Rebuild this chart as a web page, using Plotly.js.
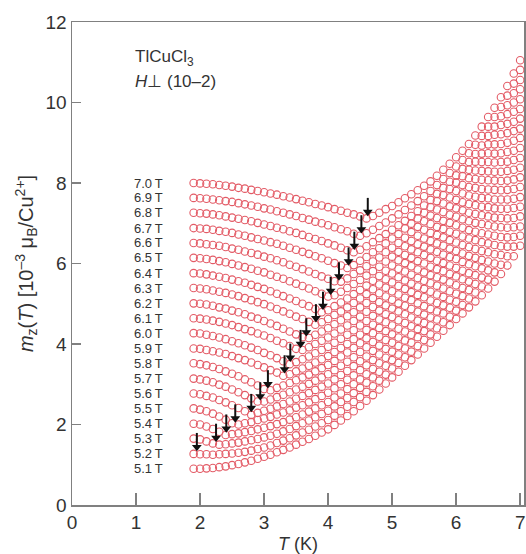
<!DOCTYPE html>
<html><head><meta charset="utf-8">
<script src="https://cdn.plot.ly/plotly-3.0.1.min.js"></script>
<style>html,body{margin:0;padding:0;background:#fff;} #chart{width:526px;height:554px;}</style>
</head><body><div id="chart"></div>
<script>
const temperature = [1.9,2.0,2.1,2.2,2.3,2.4,2.5,2.6,2.7,2.8,2.9,3.0,3.1,3.2,3.3,3.4,3.5,3.6,3.7,3.8,3.9,4.0,4.1,4.2,4.3,4.4,4.5,4.6,4.7,4.8,4.9,5.0,5.1,5.2,5.3,5.4,5.5,5.6,5.7,5.8,5.9,6.0,6.1,6.2,6.3,6.4,6.5,6.6,6.7,6.8,6.9,7.0];
const fieldLabels = ["5.1\u2009T","5.2\u2009T","5.3\u2009T","5.4\u2009T","5.5\u2009T","5.6\u2009T","5.7\u2009T","5.8\u2009T","5.9\u2009T","6.0\u2009T","6.1\u2009T","6.2\u2009T","6.3\u2009T","6.4\u2009T","6.5\u2009T","6.6\u2009T","6.7\u2009T","6.8\u2009T","6.9\u2009T","7.0\u2009T"];
const m51 = [0.90,0.90,0.91,0.92,0.94,0.96,0.99,1.02,1.06,1.10,1.15,1.20,1.25,1.31,1.37,1.43,1.50,1.57,1.64,1.72,1.80,1.88,1.99,2.10,2.21,2.33,2.46,2.59,2.73,2.87,3.02,3.17,3.31,3.46,3.60,3.74,3.89,4.03,4.18,4.33,4.47,4.62,4.76,4.91,5.06,5.21,5.38,5.55,5.74,5.95,6.18,6.44];
const m52 = [1.27,1.26,1.26,1.25,1.26,1.27,1.28,1.30,1.32,1.35,1.39,1.43,1.48,1.54,1.60,1.66,1.73,1.80,1.87,1.95,2.03,2.11,2.22,2.33,2.44,2.56,2.68,2.81,2.95,3.09,3.24,3.39,3.53,3.67,3.81,3.95,4.10,4.24,4.39,4.54,4.68,4.83,4.97,5.13,5.28,5.43,5.60,5.78,5.97,6.18,6.42,6.69];
const m53 = [1.65,1.63,1.58,1.53,1.50,1.51,1.53,1.55,1.58,1.61,1.64,1.68,1.72,1.77,1.83,1.89,1.96,2.03,2.10,2.18,2.26,2.34,2.45,2.56,2.66,2.78,2.91,3.04,3.17,3.31,3.46,3.60,3.74,3.89,4.03,4.17,4.32,4.46,4.61,4.76,4.90,5.05,5.19,5.34,5.49,5.65,5.83,6.00,6.21,6.42,6.66,6.92];
const m54 = [2.02,2.00,1.95,1.89,1.82,1.74,1.76,1.78,1.81,1.84,1.88,1.92,1.96,2.01,2.06,2.12,2.18,2.25,2.32,2.40,2.48,2.56,2.67,2.77,2.88,3.00,3.12,3.25,3.38,3.52,3.66,3.81,3.95,4.09,4.23,4.37,4.52,4.66,4.81,4.96,5.10,5.25,5.39,5.55,5.71,5.88,6.05,6.23,6.43,6.65,6.90,7.17];
const m55 = [2.40,2.37,2.33,2.27,2.20,2.12,2.03,2.00,2.03,2.06,2.11,2.15,2.19,2.25,2.30,2.35,2.42,2.48,2.55,2.63,2.71,2.79,2.90,3.00,3.11,3.22,3.35,3.47,3.60,3.74,3.88,4.03,4.16,4.31,4.44,4.58,4.73,4.87,5.02,5.17,5.31,5.46,5.61,5.76,5.93,6.09,6.28,6.46,6.66,6.89,7.13,7.41];
const m56 = [2.77,2.75,2.71,2.67,2.61,2.55,2.48,2.41,2.33,2.24,2.29,2.34,2.39,2.45,2.51,2.57,2.64,2.71,2.78,2.86,2.94,3.02,3.12,3.23,3.33,3.45,3.57,3.69,3.83,3.96,4.10,4.24,4.38,4.52,4.66,4.80,4.94,5.08,5.23,5.38,5.53,5.68,5.82,5.98,6.14,6.31,6.50,6.69,6.90,7.12,7.38,7.65];
const m57 = [3.14,3.12,3.09,3.05,2.99,2.94,2.87,2.80,2.73,2.65,2.57,2.57,2.62,2.68,2.74,2.80,2.87,2.94,3.01,3.09,3.17,3.25,3.35,3.46,3.56,3.67,3.80,3.92,4.05,4.18,4.32,4.46,4.59,4.74,4.87,5.01,5.16,5.30,5.45,5.60,5.74,5.89,6.04,6.19,6.36,6.53,6.72,6.92,7.13,7.36,7.61,7.90];
const m58 = [3.52,3.50,3.47,3.43,3.38,3.32,3.26,3.20,3.12,3.05,2.97,2.88,2.85,2.91,2.97,3.03,3.10,3.17,3.24,3.32,3.40,3.48,3.58,3.69,3.79,3.90,4.02,4.14,4.27,4.40,4.54,4.67,4.81,4.95,5.09,5.22,5.37,5.51,5.66,5.81,5.95,6.11,6.25,6.41,6.58,6.75,6.95,7.14,7.36,7.59,7.85,8.14];
const m59 = [3.89,3.88,3.85,3.82,3.79,3.75,3.70,3.65,3.60,3.54,3.48,3.42,3.35,3.29,3.21,3.25,3.32,3.39,3.46,3.54,3.62,3.70,3.80,3.90,4.00,4.12,4.23,4.35,4.48,4.61,4.74,4.88,5.01,5.15,5.29,5.43,5.57,5.71,5.86,6.01,6.16,6.31,6.46,6.62,6.79,6.98,7.17,7.37,7.59,7.83,8.09,8.38];
const m60 = [4.27,4.26,4.23,4.20,4.16,4.12,4.07,4.02,3.97,3.91,3.85,3.78,3.72,3.65,3.57,3.50,3.55,3.62,3.69,3.77,3.85,3.93,4.03,4.13,4.23,4.34,4.46,4.57,4.70,4.83,4.96,5.10,5.23,5.37,5.50,5.64,5.78,5.92,6.07,6.22,6.37,6.52,6.67,6.83,7.01,7.20,7.40,7.59,7.82,8.06,8.33,8.62];
const m61 = [4.64,4.63,4.61,4.58,4.55,4.51,4.47,4.42,4.37,4.32,4.26,4.21,4.15,4.08,4.02,3.95,3.88,3.85,3.92,4.00,4.08,4.16,4.26,4.36,4.46,4.57,4.68,4.80,4.92,5.04,5.18,5.31,5.44,5.58,5.72,5.85,6.00,6.14,6.29,6.44,6.58,6.74,6.89,7.05,7.23,7.41,7.62,7.83,8.05,8.30,8.57,8.87];
const m62 = [5.01,5.00,4.98,4.95,4.91,4.88,4.83,4.79,4.74,4.68,4.63,4.57,4.51,4.45,4.38,4.31,4.24,4.17,4.15,4.23,4.31,4.39,4.49,4.59,4.69,4.79,4.91,5.02,5.14,5.26,5.40,5.53,5.66,5.80,5.93,6.06,6.21,6.35,6.50,6.65,6.79,6.95,7.10,7.26,7.45,7.63,7.84,8.06,8.28,8.53,8.80,9.12];
const m63 = [5.39,5.38,5.36,5.33,5.30,5.27,5.23,5.19,5.14,5.09,5.04,4.99,4.93,4.87,4.81,4.75,4.68,4.62,4.55,4.48,4.54,4.62,4.72,4.81,4.91,5.02,5.13,5.24,5.36,5.48,5.61,5.75,5.87,6.01,6.14,6.28,6.42,6.56,6.71,6.86,7.01,7.16,7.32,7.48,7.66,7.85,8.07,8.28,8.52,8.77,9.05,9.35];
const m64 = [5.76,5.75,5.73,5.70,5.67,5.64,5.60,5.56,5.52,5.47,5.42,5.37,5.31,5.25,5.19,5.13,5.07,5.00,4.94,4.87,4.79,4.84,4.94,5.03,5.13,5.24,5.34,5.45,5.57,5.69,5.82,5.95,6.08,6.21,6.35,6.48,6.62,6.76,6.91,7.06,7.21,7.37,7.52,7.69,7.88,8.08,8.29,8.51,8.74,9.00,9.29,9.60];
const m65 = [6.14,6.13,6.11,6.09,6.06,6.03,5.99,5.95,5.91,5.87,5.82,5.78,5.72,5.67,5.62,5.56,5.50,5.44,5.38,5.31,5.25,5.18,5.21,5.30,5.39,5.49,5.59,5.70,5.81,5.92,6.05,6.17,6.29,6.43,6.56,6.69,6.84,6.98,7.13,7.28,7.42,7.58,7.74,7.90,8.10,8.30,8.52,8.73,8.97,9.24,9.52,9.84];
const m66 = [6.51,6.50,6.48,6.46,6.44,6.41,6.37,6.34,6.30,6.26,6.22,6.17,6.13,6.08,6.03,5.97,5.92,5.86,5.80,5.74,5.68,5.62,5.56,5.55,5.63,5.74,5.83,5.93,6.05,6.15,6.28,6.39,6.51,6.64,6.78,6.91,7.05,7.19,7.34,7.49,7.64,7.80,7.95,8.12,8.31,8.52,8.74,8.96,9.21,9.47,9.77,10.08];
const m67 = [6.88,6.87,6.86,6.84,6.81,6.79,6.76,6.72,6.69,6.65,6.61,6.57,6.53,6.49,6.44,6.39,6.34,6.29,6.24,6.18,6.13,6.07,6.01,5.95,5.89,5.96,6.07,6.16,6.28,6.38,6.50,6.62,6.73,6.87,6.99,7.12,7.26,7.40,7.55,7.70,7.85,8.01,8.17,8.33,8.53,8.73,8.96,9.20,9.44,9.71,10.00,10.33];
const m68 = [7.26,7.25,7.24,7.22,7.20,7.17,7.14,7.11,7.08,7.05,7.01,6.97,6.93,6.89,6.85,6.80,6.76,6.71,6.66,6.61,6.56,6.50,6.45,6.39,6.33,6.28,6.34,6.43,6.53,6.63,6.73,6.84,6.95,7.06,7.18,7.30,7.44,7.58,7.73,7.88,8.03,8.19,8.35,8.52,8.72,8.93,9.17,9.40,9.66,9.93,10.23,10.56];
const m69 = [7.63,7.62,7.61,7.59,7.57,7.55,7.53,7.50,7.47,7.44,7.41,7.37,7.34,7.30,7.26,7.22,7.18,7.13,7.09,7.04,7.00,6.95,6.90,6.85,6.80,6.74,6.69,6.75,6.84,6.93,7.02,7.12,7.22,7.33,7.44,7.55,7.67,7.80,7.95,8.10,8.25,8.41,8.57,8.74,8.95,9.17,9.40,9.64,9.89,10.17,10.47,10.81];
const m70 = [8.00,7.99,7.98,7.97,7.95,7.93,7.91,7.88,7.86,7.83,7.80,7.77,7.74,7.71,7.67,7.64,7.60,7.56,7.52,7.48,7.44,7.40,7.35,7.31,7.26,7.22,7.17,7.12,7.18,7.26,7.35,7.43,7.52,7.62,7.72,7.82,7.93,8.04,8.18,8.33,8.48,8.64,8.80,8.97,9.18,9.40,9.64,9.87,10.13,10.41,10.72,11.05];
const curves = [m51,m52,m53,m54,m55,m56,m57,m58,m59,m60,m61,m62,m63,m64,m65,m66,m67,m68,m69,m70];
// transition temperatures (arrows) for 5.2 T ... 7.0 T and the curve value there
const arrowT = [1.95,2.25,2.41,2.55,2.80,2.94,3.06,3.32,3.41,3.57,3.66,3.81,3.92,4.04,4.17,4.32,4.41,4.52,4.62];
const arrowM = [1.27,1.50,1.73,1.98,2.24,2.53,2.83,3.20,3.49,3.83,4.12,4.47,4.78,5.15,5.51,5.88,6.27,6.68,7.11];
const xTicks = [0,1,2,3,4,5,6,7];
const yTicks = [0,2,4,6,8,10,12];

const FONT = "'Liberation Sans', Arial, sans-serif";
const RED = '#e35b66';
const traces = curves.map((vals, i) => ({
  type: 'scatter', mode: 'markers', x: temperature, y: vals, name: fieldLabels[i],
  marker: {symbol: 'circle-open', size: 7.5, color: RED, line: {width: 1.1}},
  cliponaxis: false
}));
// arrows: shaft lines + triangular heads, positioned from the arrow arrays
const shaftX = [], shaftY = [];
arrowT.forEach((t, i) => { shaftX.push(t, t, null); shaftY.push(arrowM[i] + 0.52, arrowM[i] + 0.2, null); });
traces.push({type: 'scatter', mode: 'lines', x: shaftX, y: shaftY, line: {color: '#111', width: 2}, hoverinfo: 'skip', cliponaxis: false});
traces.push({type: 'scatter', mode: 'markers', x: arrowT, y: arrowM.map(v => v + 0.17),
  marker: {symbol: 'triangle-down', size: 8.5, color: '#111', line: {width: 0}}, hoverinfo: 'skip', cliponaxis: false});

const annotations = [];
fieldLabels.forEach((lab, i) => annotations.push({
  x: 0.94, y: curves[i][0], xref: 'x', yref: 'y', text: lab, showarrow: false,
  xanchor: 'left', yanchor: 'middle', font: {family: FONT, size: 13, color: '#333'}
}));
annotations.push({x: 0.95, y: 11.1, xref: 'x', yref: 'y', text: 'TlCuCl<sub>3</sub>', showarrow: false,
  xanchor: 'left', yanchor: 'middle', font: {family: FONT, size: 17, color: '#333'}});
annotations.push({x: 0.95, y: 10.52, xref: 'x', yref: 'y', text: '<i>H</i>\u22A5 (10\u20132)', showarrow: false,
  xanchor: 'left', yanchor: 'middle', font: {family: FONT, size: 17, color: '#333'}});

const axisCommon = {
  showline: true, linecolor: '#808080', linewidth: 1.5, mirror: true,
  ticks: 'inside', tickcolor: '#808080', tickwidth: 1.5,
  showgrid: false, zeroline: false,
  tickfont: {family: FONT, size: 19, color: '#333'}
};
const layout = {
  width: 526, height: 554,
  margin: {l: 72, r: 2, t: 22, b: 49},
  paper_bgcolor: '#fff', plot_bgcolor: '#fff',
  showlegend: false,
  xaxis: Object.assign({}, axisCommon, {
    range: [0, 7.06], tickvals: xTicks, ticklen: 12,
    title: {text: '<i>T</i> (K)', font: {family: FONT, size: 18, color: '#333'}, standoff: 6}
  }),
  yaxis: Object.assign({}, axisCommon, {
    range: [0, 12], tickvals: yTicks, ticklen: 9,
    title: {text: '<i>m</i><sub>z</sub>(<i>T</i>) [10<sup>\u20133</sup> \u03BC<sub>B</sub>/Cu<sup>2+</sup>]',
      font: {family: FONT, size: 20, color: '#333'}, standoff: 6}
  }),
  annotations: annotations
};
Plotly.newPlot('chart', traces, layout, {displayModeBar: false, staticPlot: true});
</script>
</body></html>
